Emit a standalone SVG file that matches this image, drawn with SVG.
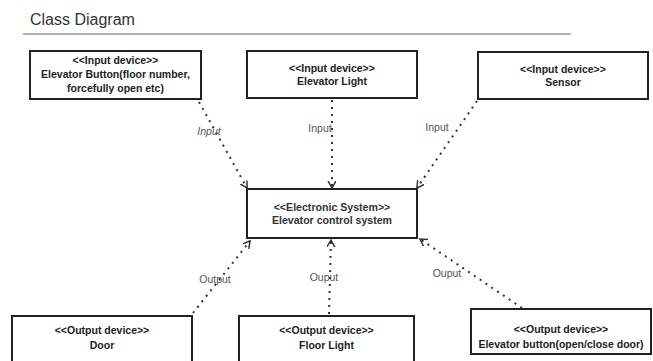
<svg xmlns="http://www.w3.org/2000/svg" width="653" height="361" viewBox="0 0 653 361">
<defs>
<style>
.box{fill:#fff;stroke:#222;stroke-width:2}
.bt{font-family:"Liberation Sans",Arial,sans-serif;font-weight:bold;font-size:10.5px;fill:#222;text-anchor:middle}
.ct{font-family:"Liberation Sans",Arial,sans-serif;font-weight:bold;font-size:10.6px;fill:#333;text-anchor:middle}
.lbl{font-family:"Liberation Sans",Arial,sans-serif;font-size:10.5px;fill:#555;text-anchor:middle}
.con{fill:none;stroke:#333;stroke-width:2;stroke-dasharray:2 5;stroke-linecap:butt}
</style>
<marker id="arr" markerUnits="userSpaceOnUse" markerWidth="10" markerHeight="10" refX="7" refY="4" orient="auto">
<path d="M0,0 L7,4 L0,8" fill="none" stroke="#333" stroke-width="1.5"/>
</marker>
</defs>
<rect width="653" height="361" fill="#fff"/>
<text x="30" y="24.5" font-family="Liberation Sans,Arial,sans-serif" font-size="16" fill="#333">Class Diagram</text>
<line x1="23" y1="34" x2="571" y2="34" stroke="#999" stroke-width="1.5"/>

<g id="connectors">
<line class="con" x1="199" y1="102" x2="247" y2="188" marker-end="url(#arr)"/>
<line class="con" x1="332" y1="100" x2="332" y2="188" marker-end="url(#arr)"/>
<line class="con" x1="477" y1="101" x2="417" y2="188" marker-end="url(#arr)"/>
<line class="con" x1="193" y1="313" x2="250" y2="241" marker-end="url(#arr)"/>
<line class="con" x1="329" y1="314" x2="331" y2="240" marker-end="url(#arr)"/>
<line class="con" x1="522" y1="308" x2="420" y2="239" marker-end="url(#arr)"/>
<text class="lbl" x="209" y="135" font-style="italic">Input</text>
<text class="lbl" x="320" y="132">Input</text>
<text class="lbl" x="437" y="131">Input</text>
<text class="lbl" x="215" y="283">Output</text>
<text class="lbl" x="324" y="281">Ouput</text>
<text class="lbl" x="447" y="277">Ouput</text>
</g>

<g id="n-button">
<rect class="box" x="30" y="51" width="171" height="48"/>
<text class="bt" x="115.5" y="64">&lt;&lt;Input device&gt;&gt;</text>
<text class="bt" x="115.5" y="77.5">Elevator Button(floor number,</text>
<text class="bt" x="115.5" y="91.5">forcefully open etc)</text>
</g>
<g id="n-light">
<rect class="box" x="247" y="51" width="170" height="47"/>
<text class="bt" x="332" y="71.5">&lt;&lt;Input device&gt;&gt;</text>
<text class="bt" x="332" y="85">Elevator Light</text>
</g>
<g id="n-sensor">
<rect class="box" x="478" y="52" width="170" height="47"/>
<text class="bt" x="563" y="72.5">&lt;&lt;Input device&gt;&gt;</text>
<text class="bt" x="563" y="86">Sensor</text>
</g>
<g id="n-control">
<rect class="box" x="247" y="189" width="170" height="49"/>
<text class="ct" x="332" y="211">&lt;&lt;Electronic System&gt;&gt;</text>
<text class="ct" x="332" y="224">Elevator control system</text>
</g>
<g id="n-door">
<rect class="box" x="12" y="316" width="180" height="50"/>
<text class="bt" x="102" y="334">&lt;&lt;Output device&gt;&gt;</text>
<text class="bt" x="102" y="349">Door</text>
</g>
<g id="n-floorlight">
<rect class="box" x="239" y="316" width="175" height="50"/>
<text class="bt" x="326.5" y="334">&lt;&lt;Output device&gt;&gt;</text>
<text class="bt" x="326.5" y="349">Floor Light</text>
</g>
<g id="n-elevbutton">
<rect class="box" x="471" y="309" width="180" height="45"/>
<text class="bt" x="561" y="333">&lt;&lt;Output device&gt;&gt;</text>
<text class="bt" x="561" y="348">Elevator button(open/close door)</text>
</g>
</svg>
